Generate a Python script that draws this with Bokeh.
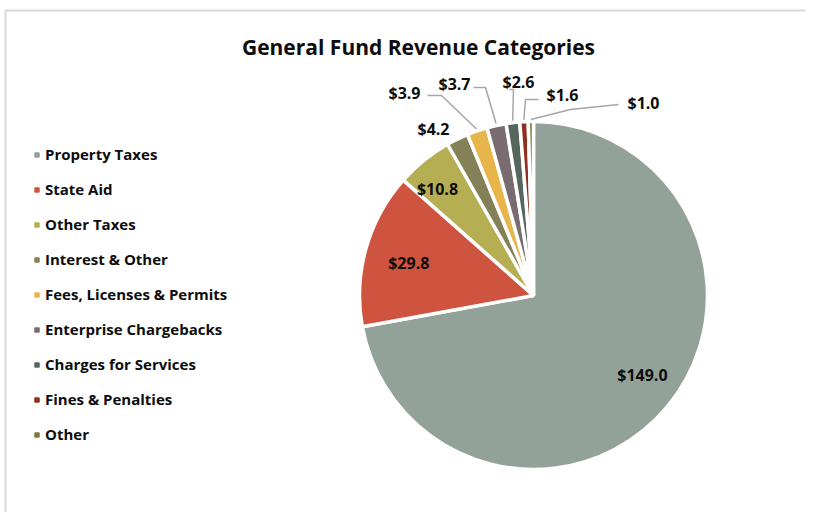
import numpy as np
from bokeh.plotting import figure
from bokeh.models import Range1d, Legend, LegendItem, ColumnDataSource
from bokeh.core.properties import value
from bokeh.embed import file_html
from bokeh.resources import INLINE

# ---------------- data ----------------
categories = ["Property Taxes", "State Aid", "Other Taxes", "Interest & Other",
              "Fees, Licenses & Permits", "Enterprise Chargebacks",
              "Charges for Services", "Fines & Penalties", "Other"]
amounts = [149.0, 29.8, 10.8, 4.2, 3.9, 3.7, 2.6, 1.6, 1.0]
colors = ["#93A299", "#CF543F", "#B5AE53", "#848058", "#E8B54D",
          "#786C71", "#56665C", "#8F2F20", "#7D7A3C"]
title_text = "General Fund Revenue Categories"

# ---------------- layout ----------------
W, H = 805, 512
FONT = "Open Sans"
CX, CY = 533, 295        # pie centre (page px)
R = 174                  # radius (px)

def Y(py):               # page y -> data y (y up)
    return -py

p = figure(width=W, height=H, x_range=Range1d(0, W), y_range=Range1d(-H, 0),
           output_backend="svg", toolbar_location=None, min_border=0,
           x_axis_type=None, y_axis_type=None)
p.outline_line_color = None
p.background_fill_color = "white"
p.border_fill_color = "white"

# chart border (top and left edges visible)
p.segment(x0=[5, 5], y0=[Y(10), Y(10)], x1=[W, 5], y1=[Y(10), Y(H)],
          line_color="#D9D9D9", line_width=2)

# wedges
vals = np.array(amounts)
total = vals.sum()
cum = np.concatenate([[0], np.cumsum(vals)])
start = np.pi / 2 - 2 * np.pi * cum[:-1] / total
end = np.pi / 2 - 2 * np.pi * cum[1:] / total
mid = (start + end) / 2
src = ColumnDataSource(dict(cat=categories, amt=amounts, color=colors,
                            start=start, end=end))
p.wedge(x=CX, y=Y(CY), radius=R, start_angle="start", end_angle="end",
        direction="clock", fill_color="color", line_color="white",
        line_width=3.5, source=src)

labels = ["$%.1f" % v for v in amounts]

# inside labels (first three slices)
inside_k = [0.80, 0.75, 0.84]
inside_nudge = [(2, -10), (1, 3), (-4, 7)]
ix = [CX + k * R * np.cos(m) + n[0] for k, m, n in zip(inside_k, mid[:3], inside_nudge)]
iy = [Y(CY) + k * R * np.sin(m) - n[1] for k, m, n in zip(inside_k, mid[:3], inside_nudge)]
p.text(x=ix, y=iy, text=labels[:3], text_font=value(FONT), text_font_style="bold",
       text_font_size="16px", text_color="#0D0D0D", text_align="center",
       text_baseline="middle")

# outside labels (remaining slices) - label centres (page px)
out_pos = [(433, 128), (404, 92), (454, 83), (518, 81), (562, 94), (643, 102)]
ox = [q[0] for q in out_pos]
oy = [Y(q[1]) for q in out_pos]
p.text(x=ox, y=oy, text=labels[3:], text_font=value(FONT), text_font_style="bold",
       text_font_size="16px", text_color="#0D0D0D", text_align="center",
       text_baseline="middle")

# leader lines: label-side points then anchor on slice rim
leader_pts = {4: [(427, 95), (441, 95)],
              5: [(473, 87), (485, 87)],
              6: [(509, 89), (513, 89)],
              7: [(538, 99), (525, 99)],
              8: [(618, 104), (570, 109)]}
xs, ys = [], []
for i, pts in leader_pts.items():
    ax = CX + (R + 2) * np.cos(mid[i])
    ay = Y(CY) + (R + 2) * np.sin(mid[i])
    xs.append([q[0] for q in pts] + [ax])
    ys.append([Y(q[1]) for q in pts] + [ay])
p.multi_line(xs=xs, ys=ys, line_color="#A6A6A6", line_width=1.5)

# title
p.text(x=[418], y=[Y(46)], text=[title_text], text_font=value(FONT),
       text_font_style="bold", text_font_size="21px", text_color="#0D0D0D",
       text_align="center", text_baseline="middle")

# legend swatches (square markers, not drawn in the plot area)
lsrc = ColumnDataSource(dict(x=[np.nan] * len(categories), y=[np.nan] * len(categories),
                             color=colors))
sw = p.scatter(x="x", y="y", marker="square", size=6, fill_color="color",
               line_color="color", source=lsrc)
items = [LegendItem(label=c, renderers=[sw], index=i) for i, c in enumerate(categories)]
legend = Legend(items=items, location=(31, 68), orientation="vertical",
                glyph_width=11, glyph_height=11, label_height=20, spacing=15,
                label_standoff=3, padding=0, margin=0,
                border_line_color=None, background_fill_alpha=0,
                label_text_font=FONT, label_text_font_style="bold",
                label_text_font_size="15px", label_text_color="#0D0D0D")
p.add_layout(legend, "center")

open("out.html", "w").write(file_html(p, INLINE))
